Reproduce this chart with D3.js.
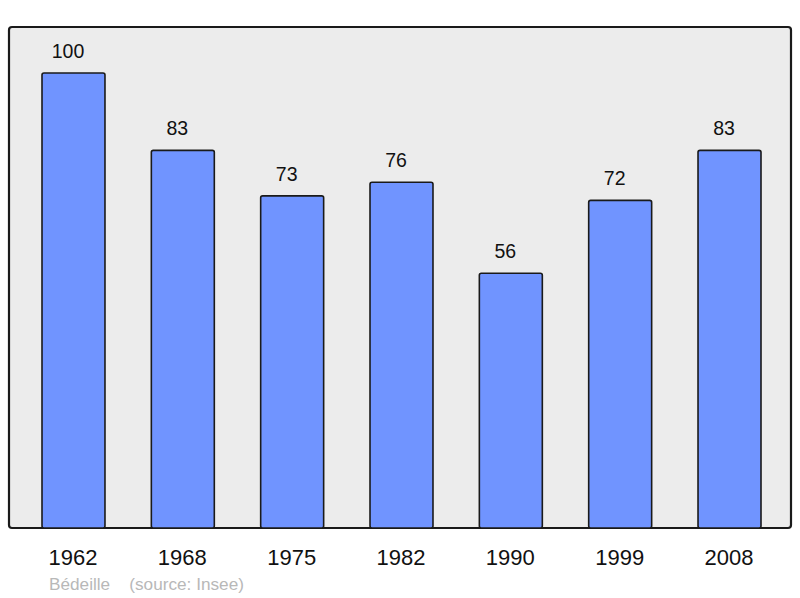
<!DOCTYPE html>
<html><head><meta charset="utf-8">
<script src="https://cdn.jsdelivr.net/npm/d3@7"></script>
<style>body{margin:0;background:#fff}svg{display:block;font-family:"Liberation Sans",Arial,sans-serif}</style>
</head><body>
<svg id="c" width="800" height="598"></svg>
<script>
const years = ["1962","1968","1975","1982","1990","1999","2008"];
const population = [100, 83, 73, 76, 56, 72, 83];
const commune = "Bédeille";
const source = "(source: Insee)";

const svg = d3.select("#c");
const x = d3.scaleBand().domain(years).range([9.2, 793.8]).paddingInner(0.424).paddingOuter(0.3);
const y = d3.scaleLinear().domain([0, 100]).range([528, 73]);

svg.append("rect").attr("x", 9).attr("y", 27).attr("width", 782).attr("height", 501)
  .attr("rx", 3).attr("fill", "#ececec").attr("stroke", "#1a1a1a").attr("stroke-width", 2.2);

const g = svg.append("g");
g.selectAll("rect.bar").data(years).join("rect").attr("class","bar")
  .attr("x", d => x(d)).attr("width", x.bandwidth())
  .attr("y", (d,i) => y(population[i])).attr("height", (d,i) => y(0) - y(population[i]))
  .attr("rx", 2).attr("fill", "#7094ff").attr("stroke", "#1a1a1a").attr("stroke-width", 1.6);

g.selectAll("text.val").data(years).join("text").attr("class","val")
  .attr("x", d => x(d) + x.bandwidth()/2 - 5.5).attr("y", (d,i) => y(population[i]) - 15)
  .attr("text-anchor", "middle").attr("font-size", "19.5px").attr("fill", "#111")
  .text((d,i) => population[i]);

const xAxis = d3.axisBottom(x).tickSize(0).tickPadding(0);
const ax = svg.append("g").attr("transform", "translate(-0.5,549)").call(xAxis);
ax.select(".domain").remove();
ax.selectAll("text").attr("font-size", "22px").attr("fill", "#111").attr("dy", "0.71em")
  .attr("font-family", "Liberation Sans, Arial, sans-serif");

svg.append("text").attr("x", 49).attr("y", 590).attr("font-size", "17.2px").attr("fill", "#b8b8b8")
  .text(commune);
svg.append("text").attr("x", 129.3).attr("y", 590).attr("font-size", "17.2px").attr("fill", "#b8b8b8")
  .text(source);
</script>
</body></html>
